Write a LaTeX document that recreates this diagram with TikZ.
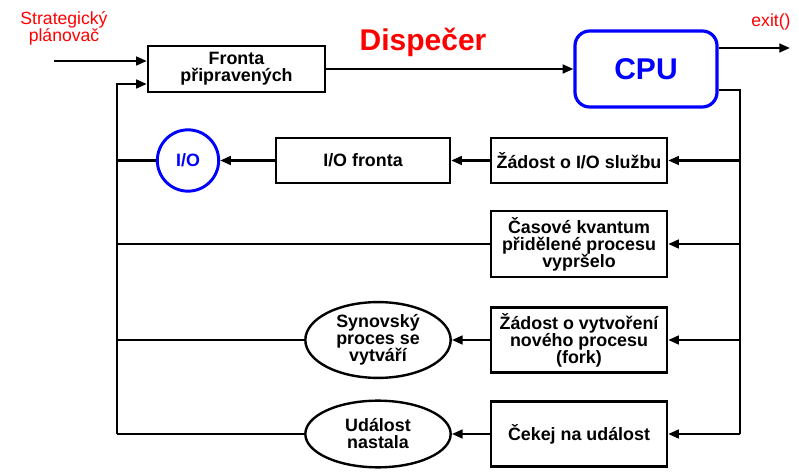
\documentclass[tikz,border=0pt]{standalone}
\usepackage{fontspec}
\setmainfont{Liberation Sans}
\usetikzlibrary{arrows.meta,shapes.geometric}
\definecolor{figline}{RGB}{0,0,0}
\definecolor{figred}{RGB}{255,0,0}
\definecolor{figblue}{RGB}{0,0,255}
\tikzset{
  bx/.style   ={draw=figline, line width=1.8pt, align=center, inner sep=1pt,
                font=\fontsize{13.4}{12.8}\selectfont\bfseries},
  ov/.style   ={bx, ellipse},
  ln/.style   ={draw=figline, line width=1.8pt, line join=miter},
  arr/.style  ={ln, -{Triangle[length=8pt,width=6.5pt]}},
  redlab/.style={text=figred, align=center, inner sep=0pt,
                font=\fontsize{13.2}{12.8}\selectfont},
}
\begin{document}
\begin{tikzpicture}[x=0.75pt,y=-0.75pt]
  \useasboundingbox (0,0) rectangle (799,473);
  \node[redlab] (strat) at (64,28) {Strategický\\plánovač};
  \node[redlab] (exitl) at (771,22) {exit()};
  \node[text=figred, inner sep=0pt, font=\fontsize{22.5}{24}\selectfont\bfseries] (disp) at (423,42) {Dispečer};
  \node[bx, minimum width=132.75pt, minimum height=34.5pt] (fronta) at (236.5,69) {Fronta\\připravených};
  \node[bx, draw=figblue, line width=2.4pt, rounded corners=11pt, minimum width=106.5pt, minimum height=57pt,
        text=figblue, font=\fontsize{22.5}{24}\selectfont\bfseries] (cpu) at (646,69) {CPU};
  \node[bx, minimum width=132pt, minimum height=33.75pt] (zio) at (579,160.5) {Žádost o I/O službu};
  \node[bx, minimum width=130.5pt, minimum height=33.75pt] (iofr) at (363,160.5) {I/O fronta};
  \node[bx, circle, draw=figblue, line width=2.2pt, text=figblue, minimum size=46pt] (io) at (188,160.5) {I/O};
  \node[bx, minimum width=132pt, minimum height=49.5pt] (kvant) at (579,244) {Časové kvantum\\přidělené procesu\\vypršelo};
  \node[bx, minimum width=132pt, minimum height=48.75pt] (fork) at (579,340) {Žádost o vytvoření\\nového procesu\\(fork)};
  \node[ov, minimum width=109pt, minimum height=53pt] (syn) at (378,340) {Synovský\\proces se\\vytváří};
  \node[bx, minimum width=132pt, minimum height=48.75pt] (cekej) at (579,434) {Čekej na událost};
  \node[ov, minimum width=109pt, minimum height=50pt] (udal) at (378,434) {Událost\\nastala};
  \coordinate (sp) at (54,61);
  \coordinate (ex) at (790,48);
  \coordinate (rt) at (740,90);
  \coordinate (rb) at (740,434);
  \coordinate (lt) at (117,84);
  \coordinate (lb) at (117,434);
  \draw[arr] (sp) -- (sp -| fronta.west);
  \draw[arr] (fronta) -- (cpu);
  \draw[arr] (cpu.east |- ex) -- (ex);
  \draw[ln] (cpu.east |- rt) -- (rt) -- (rb);
  \draw[arr] (rt |- zio) -- (zio);
  \draw[arr] (rt |- kvant) -- (kvant);
  \draw[arr] (rt |- fork) -- (fork);
  \draw[arr] (rb) -- (cekej);
  \draw[arr] (zio) -- (iofr);
  \draw[arr] (iofr) -- (io);
  \draw[arr] (fork) -- (syn);
  \draw[arr] (cekej) -- (udal);
  \draw[ln] (io) -- (lt |- io);
  \draw[ln] (kvant) -- (lt |- kvant);
  \draw[ln] (syn) -- (lt |- syn);
  \draw[ln] (udal) -- (lb);
  \draw[arr] (lb) -- (lt) -- (lt -| fronta.west);
\end{tikzpicture}
\end{document}
